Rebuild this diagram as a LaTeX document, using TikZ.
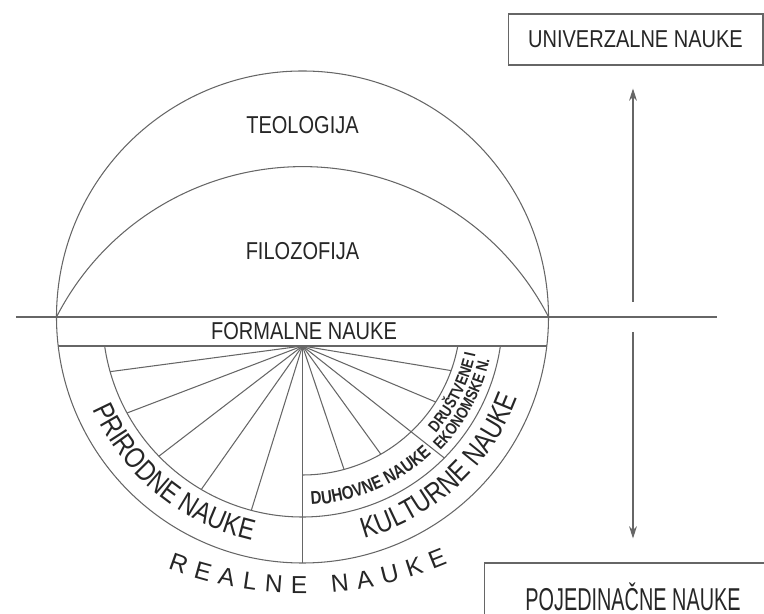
\documentclass[tikz,border=0pt]{standalone}
\usepackage{fontspec}
\usepackage{graphicx}
\setmainfont{Liberation Sans}[FakeStretch=0.82]
\newfontfamily\wideface{Liberation Sans}
\usetikzlibrary{arrows.meta,decorations.text}
\newcommand\lblfont{\fontsize{13.9}{16}\selectfont}
\newcommand\arcfont{\fontsize{16.5}{19}\selectfont}
\newcommand\smallarc{\bfseries\fontsize{10.5}{12}\selectfont}
\newcommand\tinyarc{\bfseries\fontsize{9.3}{11}\selectfont}
\tikzset{
  ln/.style={draw=black!60, line width=0.6pt},
  lbl/.style={font=\lblfont, text=black!85},
  box/.style={lbl, draw=black!60, line width=0.6pt, inner sep=0pt},
  tip/.style={-{Stealth[length=7pt,width=4.5pt]}},
  arctext/.style={decorate, decoration={text along path, text align=center, text color=black!85, text={#1}}},
}
\begin{document}
\begin{tikzpicture}[x=0.02cm, y=0.02cm]
\useasboundingbox (-302.5,-297) rectangle (461.5,317);
\coordinate (C) at (0,0);
\coordinate (hub) at (0,-29);
\coordinate (mid) at (330.5,0);

% upper half
\draw[ln] (C) circle (246);
\draw[ln] (-286.5,0) -- (414.5,0);
\draw[ln] (-246,0) arc (152.85:27.15:276.5);
\node[lbl] (teo) at (0,192) {TEOLOGIJA};
\node[lbl] (filo) at (0,66) {FILOZOFIJA};

% lower half
\draw[ln] (186.77:246) -- (353.23:246);
\node[lbl] (formal) at (1.5,-14) {FORMALNE NAUKE};
\draw[ln] (188.34:200) arc (188.34:351.66:200);
\draw[ln] (270:158) arc (270:349.42:158);
\draw[ln] (hub) -- (0,-246);
\foreach \a in {-172.4,-159.1,-142.5,-125.2,-107.3,-38.3}
  \draw[ln] (hub) -- ++(\a:{29*sin(\a)+100*sqrt(4-(0.29*cos(\a))^2)});
\foreach \a in {-9.4,-22.8,-54.1,-71.4}
  \draw[ln] (hub) -- ++(\a:{29*sin(\a)+100*sqrt(1.58^2-(0.29*cos(\a))^2)});

\path[arctext={|\arcfont|PRIRODNE NAUKE}] (198:229) arc (198:263:229);
\path[arctext={|\arcfont|KULTURNE NAUKE}] (-80:230) arc (-80:-15:230);
\path[arctext={|\smallarc|DUHOVNE NAUKE}] (-89:188) arc (-89:-45:188);
\path[arctext={|\tinyarc|DRUŠTVENE I}] (-45:177) arc (-45:-8:177);
\path[arctext={|\tinyarc|EKONOMSKE N.}] (-47:192) arc (-47:-10:192);
\path[decorate, decoration={text along path, text align={fit to path}, text color=black!85,
  text={|\wideface\fontsize{14}{16}\selectfont|REALNE NAUKE}}] (-134.8,-251.5) arc (249:293:374);

% right column
\node[box, minimum width=5.1cm, minimum height=1.02cm] (univ) at (333,277.5) {UNIVERZALNE NAUKE};
\node[box, minimum width=5.96cm, minimum height=1.36cm, font=\fontsize{18}{20}\selectfont] (pojed) at (330.5,-280) {\scalebox{0.766}[1]{POJEDINAČNE NAUKE}};
\draw[ln, tip, shorten <=0.3cm, shorten >=0.46cm] (mid) -- (mid |- univ.south);
\draw[ln, tip, shorten <=0.3cm, shorten >=0.48cm] (mid) -- (mid |- pojed.north);
\end{tikzpicture}
\end{document}
